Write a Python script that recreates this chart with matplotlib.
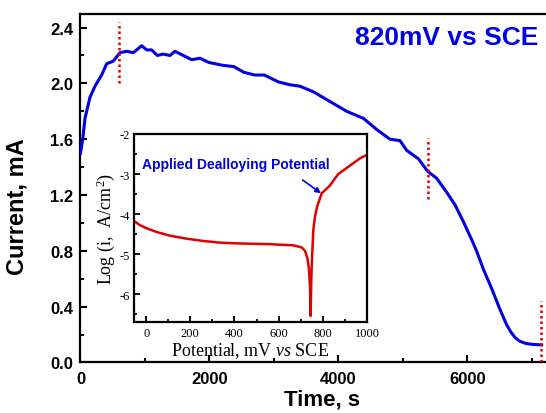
import matplotlib
matplotlib.use('Agg')
import matplotlib.pyplot as plt
from matplotlib.ticker import MultipleLocator, FormatStrFormatter

plt.rcParams['font.family'] = ['Liberation Sans', 'DejaVu Sans']
plt.rcParams['axes.unicode_minus'] = False
plt.rcParams['mathtext.fontset'] = 'custom'
plt.rcParams['mathtext.rm'] = 'Liberation Serif'
plt.rcParams['mathtext.it'] = 'Liberation Serif:italic'

# main curve: current vs time at 820 mV
time_s = [0, 35, 70, 147, 225, 328, 405, 510, 612, 716, 820, 948, 1026, 1103,
          1191, 1284, 1388, 1465, 1594, 1724, 1853, 1990, 2200, 2380, 2530,
          2700, 2850, 3071, 3250, 3400, 3611, 3868, 4127, 4385, 4592, 4798,
          4953, 5057, 5238, 5383, 5522, 5677, 5806, 5935, 6065, 6140, 6245,
          6375, 6504, 6560, 6608, 6670, 6736, 6800, 6891, 7000, 7150]
current_mA = [1.50, 1.60, 1.75, 1.90, 1.98, 2.06, 2.14, 2.16, 2.22, 2.23, 2.22,
              2.27, 2.24, 2.24, 2.20, 2.21, 2.20, 2.23, 2.20, 2.17, 2.18, 2.15,
              2.13, 2.12, 2.08, 2.06, 2.06, 2.01, 1.99, 1.98, 1.94, 1.87, 1.80,
              1.75, 1.67, 1.60, 1.59, 1.52, 1.46, 1.37, 1.32, 1.22, 1.13, 1.01,
              0.88, 0.80, 0.67, 0.53, 0.38, 0.32, 0.27, 0.22, 0.18, 0.155,
              0.138, 0.130, 0.126]

# dotted markers (time, current from, current to)
mark_t = [600, 5390, 7140]
mark_lo = [2.00, 1.17, 0.0]
mark_hi = [2.44, 1.61, 0.44]

# inset: polarization curve
potential_mV = [-55, -30, 0, 50, 109, 180, 259, 330, 410, 561, 667, 704, 720,
                730, 737, 742, 745, 748, 752, 757, 765, 775, 795, 832, 850,
                870, 900, 923, 968, 1000]
log_i = [-4.17, -4.27, -4.35, -4.45, -4.54, -4.61, -4.67, -4.71, -4.73, -4.75,
         -4.78, -4.83, -4.92, -5.10, -5.35, -5.80, -6.54, -5.60, -5.00, -4.40,
         -4.05, -3.80, -3.48, -3.29, -3.15, -3.00, -2.88, -2.79, -2.61, -2.52]

fig = plt.figure(figsize=(5.46, 4.14), dpi=100)
ax = fig.add_axes([0.1474, 0.122, 0.886, 0.8427])

ax.plot(time_s, current_mA, color='#0000e0', lw=2.2, zorder=3)
for t, lo, hi in zip(mark_t, mark_lo, mark_hi):
    ax.plot([t, t], [lo, hi], color='#e00000', lw=1.8, ls=(0, (1, 1.2)), zorder=4)

ax.set_xlim(0, 7500)
ax.set_ylim(0, 2.5)
ax.xaxis.set_major_locator(MultipleLocator(2000))
ax.xaxis.set_minor_locator(MultipleLocator(1000))
ax.yaxis.set_major_locator(MultipleLocator(0.4))
ax.yaxis.set_minor_locator(MultipleLocator(0.2))
ax.yaxis.set_major_formatter(FormatStrFormatter('%.1f'))
ax.tick_params(which='both', direction='in', width=1.5, top=False, right=False)
ax.tick_params(which='major', length=5)
ax.tick_params(which='minor', length=3)
ax.tick_params(axis='x', pad=6)
ax.tick_params(axis='y', pad=5)
for lab in ax.get_xticklabels() + ax.get_yticklabels():
    lab.set_fontsize(12)
    lab.set_fontweight('bold')
for sp in ax.spines.values():
    sp.set_linewidth(1.6)

ax.set_xlabel('Time, s', fontsize=16, fontweight='bold')
ax.set_ylabel('Current, mA', fontsize=17, fontweight='bold')
ax.xaxis.set_label_coords(0.5, -0.075)
ax.yaxis.set_label_coords(-0.108, 0.45)

ax.text(4256, 2.335, '820mV vs SCE', color='#0000e0', fontsize=19,
        fontweight='bold', ha='left', va='center')

# inset
ins = fig.add_axes([0.2454, 0.219, 0.4267, 0.455])
ins.plot(potential_mV, log_i, color='#e00000', lw=1.8)
ins.set_xlim(-55, 1000)
ins.set_ylim(-6.7, -2)
ins.xaxis.set_major_locator(MultipleLocator(200))
ins.xaxis.set_minor_locator(MultipleLocator(100))
ins.yaxis.set_major_locator(MultipleLocator(1))
ins.yaxis.set_minor_locator(MultipleLocator(0.5))
ins.tick_params(which='both', direction='in', width=1.3, top=False, right=False,
                labelsize=9, pad=3)
ins.tick_params(which='major', length=4)
ins.tick_params(which='minor', length=2.5)
for lab in ins.get_xticklabels() + ins.get_yticklabels():
    lab.set_fontfamily('Liberation Serif')
for sp in ins.spines.values():
    sp.set_linewidth(1.6)
ins.set_xlabel('Potential, mV $\\mathit{vs}$ SCE', fontsize=13,
               fontfamily='Liberation Serif', labelpad=1)
ins.set_ylabel('Log (i,  A/cm$^2$)', fontsize=13,
               fontfamily='Liberation Serif', labelpad=2)

ins.text(-19, -2.75, 'Applied Dealloying Potential', color='#0000e0',
         fontsize=10, fontweight='bold', ha='left', va='center')
ins.annotate('', xy=(792, -3.48), xytext=(709, -3.15),
             arrowprops=dict(arrowstyle='-|>', color='#0000e0', lw=1.2,
                             mutation_scale=8, shrinkA=0, shrinkB=0))

fig.savefig('out.png', dpi=100)
